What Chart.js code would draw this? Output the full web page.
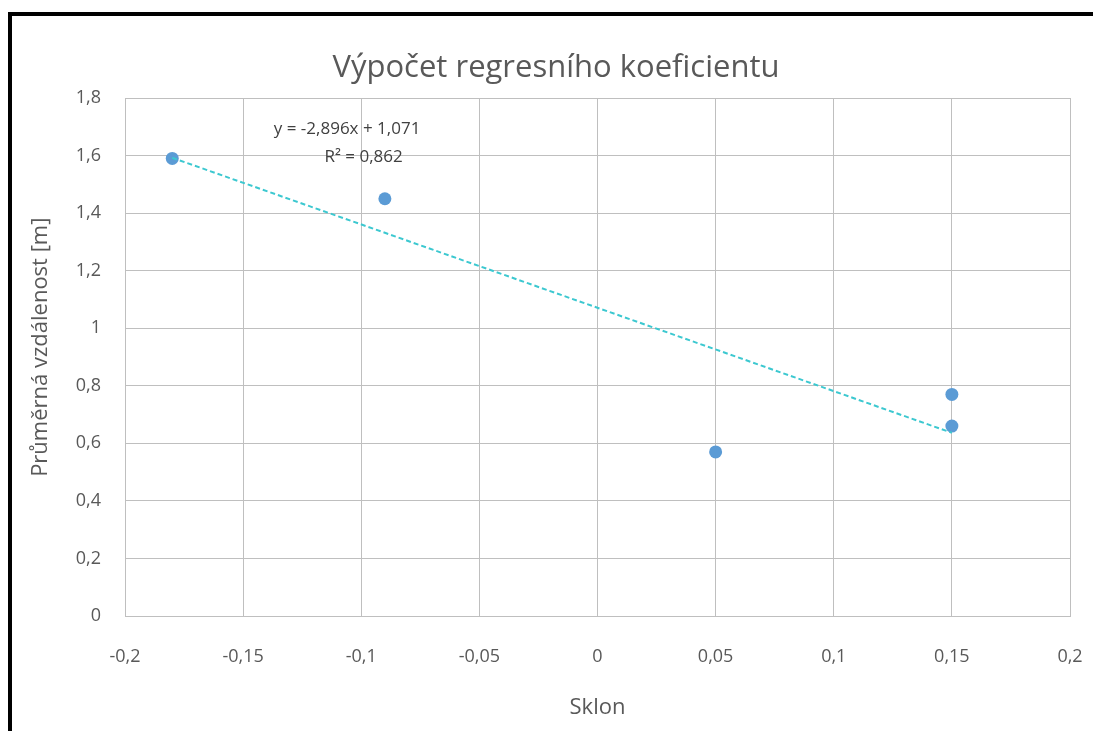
<!DOCTYPE html>
<html>
<head>
<meta charset="utf-8">
<script src="https://cdn.jsdelivr.net/npm/chart.js@4.4.1/dist/chart.umd.min.js"></script>
<style>
  html, body { margin: 0; padding: 0; background: #fff; overflow: hidden; }
  #wrap { position: relative; width: 1093px; height: 731px; }
  #frame {
    position: absolute; left: 8px; top: 12px; width: 1200px; height: 900px;
    border-top: 4px solid #000; border-left: 4px solid #000; pointer-events: none;
  }
</style>
</head>
<body>
<div id="wrap">
  <canvas id="chart" width="1093" height="731"></canvas>
  <div id="frame"></div>
</div>
<script>
// data
const slopeX = [-0.18, -0.09, 0.05, 0.15, 0.15];
const distY = [1.59, 1.45, 0.57, 0.77, 0.66];
// excel trendline as printed on the chart
const trendSlope = -2.896;
const trendIntercept = 1.071;
const trendR2 = 0.862;
const xTicks = [-0.2, -0.15, -0.1, -0.05, 0, 0.05, 0.1, 0.15, 0.2];
const yTicks = [0, 0.2, 0.4, 0.6, 0.8, 1, 1.2, 1.4, 1.6, 1.8];

const fmt = v => Number(v.toFixed(3)).toString().replace('.', ',');

const points = slopeX.map((x, i) => ({ x: x, y: distY[i] }));
const xMin = Math.min(...slopeX), xMax = Math.max(...slopeX);
const trend = [xMin, xMax].map(x => ({ x: x, y: trendSlope * x + trendIntercept }));

const FONT = '"Open Sans", "Noto Sans", sans-serif';

// equation label + y axis title (excel puts it a bit below the middle)
const extraText = {
  id: 'extraText',
  afterDatasetsDraw(chart) {
    const { ctx, scales } = chart;
    ctx.save();
    ctx.fillStyle = '#404040';
    ctx.font = '17px ' + FONT;
    ctx.textAlign = 'center';
    ctx.textBaseline = 'middle';
    ctx.fillText('y = ' + fmt(trendSlope) + 'x + ' + fmt(trendIntercept),
      scales.x.getPixelForValue(-0.106), scales.y.getPixelForValue(1.692));
    ctx.fillText('R² = ' + fmt(trendR2),
      scales.x.getPixelForValue(-0.099), scales.y.getPixelForValue(1.595));

    ctx.fillStyle = '#595959';
    ctx.font = '22px ' + FONT;
    ctx.translate(41, scales.y.getPixelForValue(1.0) + 19);
    ctx.rotate(-Math.PI / 2);
    ctx.fillText('Průměrná vzdálenost [m]', 0, 0);
    ctx.restore();
  }
};

new Chart(document.getElementById('chart'), {
  type: 'scatter',
  data: {
    datasets: [
      {
        label: 'trend',
        type: 'line',
        data: trend,
        borderColor: '#3cc8d0',
        borderWidth: 2,
        borderDash: [5, 3],
        pointRadius: 0,
        fill: false,
      },
      {
        label: 'data',
        data: points,
        backgroundColor: '#5b9bd5',
        borderColor: '#5b9bd5',
        pointRadius: 6.5,
        pointBorderWidth: 0,
      },
    ],
  },
  options: {
    animation: false,
    responsive: false,
    layout: { padding: { left: 42, right: 23 } },
    plugins: {
      legend: { display: false },
      tooltip: { enabled: false },
      title: {
        display: true,
        text: 'Výpočet regresního koeficientu',
        color: '#595959',
        font: { family: FONT, size: 31, weight: 'normal', lineHeight: 1.2 },
        padding: { top: 49.4, bottom: 11.4 },
      },
    },
    scales: {
      x: {
        type: 'linear',
        min: -0.2,
        max: 0.2,
        afterBuildTicks: axis => { axis.ticks = xTicks.map(v => ({ value: v })); },
        afterFit: axis => {
          axis.height = 115;
          // tick padding gets added to the side padding, drop it
          axis.paddingLeft = 0;
          axis.paddingRight = 0;
        },
        ticks: {
          color: '#595959',
          font: { family: FONT, size: 18 },
          padding: 30,
          maxRotation: 0,
          callback: v => fmt(v),
        },
        grid: { color: '#bfbfbf', lineWidth: 1, drawTicks: false },
        border: { color: '#bfbfbf' },
        title: {
          display: true,
          text: 'Sklon',
          color: '#595959',
          font: { family: FONT, size: 22, lineHeight: 1.2 },
          padding: { bottom: 10 },
        },
      },
      y: {
        min: 0,
        max: 1.8,
        afterBuildTicks: axis => { axis.ticks = yTicks.map(v => ({ value: v })); },
        afterFit: axis => { axis.width = 83; },
        ticks: {
          color: '#595959',
          font: { family: FONT, size: 18 },
          padding: 24,
          callback: v => fmt(v),
        },
        grid: { color: '#bfbfbf', lineWidth: 1, drawTicks: false },
        border: { color: '#bfbfbf' },
      },
    },
  },
  plugins: [extraText],
});
</script>
</body>
</html>
